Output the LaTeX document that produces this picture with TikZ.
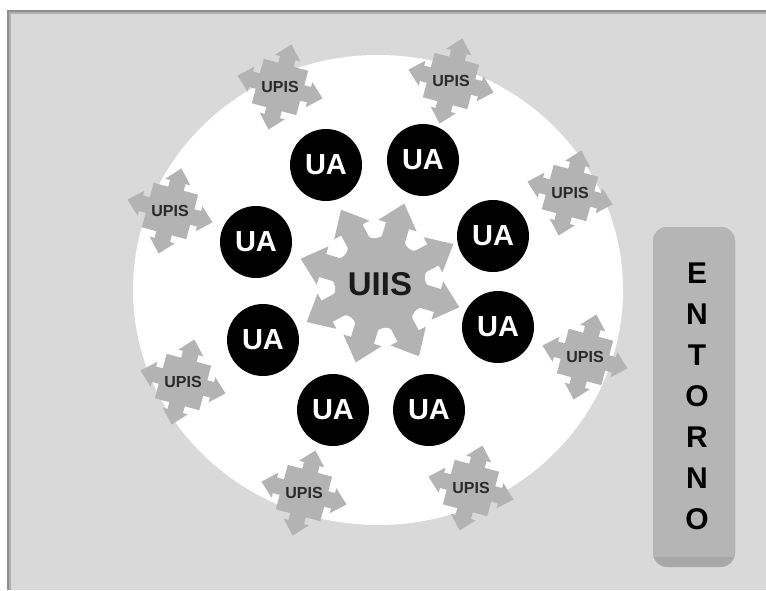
\documentclass[tikz,border=0pt]{standalone}
\usepackage{fontspec}
\setmainfont{Liberation Sans}
\definecolor{bggray}{HTML}{D9D9D9}
\definecolor{framedark}{HTML}{8E8E8E}
\definecolor{framemid}{HTML}{B0B0B0}
\definecolor{shapegray}{HTML}{B3B3B3}
\definecolor{boxgray}{HTML}{B5B5B5}
\definecolor{boxdark}{HTML}{A8A8A8}
\definecolor{uiistext}{HTML}{1A1A1A}
\definecolor{upistext}{HTML}{2A2A2A}
\tikzset{
  upisshape/.pic={
    \fill[shapegray] (-23,-23) rectangle (23,23);
    \foreach \a in {0,90,180,270}{
      \fill[shapegray,rotate=\a] (0,-8) -- (30,-8) -- (30,-13) -- (44,0) -- (30,13) -- (30,8) -- (0,8) -- cycle;
    }
  },
  upislabel/.style={font=\fontsize{16}{16}\selectfont\bfseries, text=upistext, inner sep=0pt},
  uacircle/.style={circle, fill=black, minimum size=72pt, inner sep=0pt,
    font=\fontsize{29}{29}\selectfont\bfseries, text=white},
  uiislabel/.style={font=\fontsize{33}{33}\selectfont\bfseries, text=uiistext, inner sep=0pt},
  entornolabel/.style={font=\fontsize{30}{41}\selectfont\bfseries, text=black, align=center, inner sep=0pt}
}
\begin{document}
\begin{tikzpicture}[x=1pt,y=-1pt]
\useasboundingbox (0,0) rectangle (766,590);
% background frame
\fill[white] (0,0) rectangle (766,590);
\fill[framedark] (7,10) rectangle (766,590);
\fill[framemid] (9,12) rectangle (766,590);
\fill[bggray] (10.5,13.5) rectangle (766,590);
% white circle
\fill[white] (378,290) ellipse [x radius=245, y radius=235];
% UPIS shapes
\foreach \n/\x/\y in {1/280/87, 2/451/81, 3/570/193, 4/585/357, 5/471/488, 6/304/493, 7/183/382, 8/170/211}{
  \pic[rotate=-15] (up\n) at (\x,\y) {upisshape};
  \node[upislabel] (upt\n) at (\x,\y) {UPIS};
}
% UIIS shape
\begin{scope}[shift={(380,283)}]
  \fill[shapegray] (0,0) circle (60);
  \foreach \k in {0,...,7}
    \fill[white, rotate=5.5+45*\k] (57,0) circle (12);
  \foreach \k in {0,...,7}
    \fill[shapegray, rotate=28+45*\k] (0,-12) -- (60,-12) -- (60,-20) -- (83,0) -- (60,20) -- (60,12) -- (0,12) -- cycle;
\end{scope}
\node[uiislabel] (uiis) at (380,284) {UIIS};
% UA circles
\node[uacircle] (ua1) at (326,165) {UA};
\node[uacircle] (ua2) at (423,160) {UA};
\node[uacircle] (ua3) at (493,236) {UA};
\node[uacircle] (ua4) at (498,327) {UA};
\node[uacircle] (ua5) at (429,410) {UA};
\node[uacircle] (ua6) at (333,410) {UA};
\node[uacircle] (ua7) at (263,340) {UA};
\node[uacircle] (ua8) at (256,242) {UA};
% ENTORNO box
\fill[boxdark, rounded corners=14pt] (653,227) rectangle (735,567);
\begin{scope}
  \clip (600,200) rectangle (760,556);
  \fill[boxgray, rounded corners=14pt] (653,227) rectangle (735,567);
\end{scope}
\node[entornolabel] (entorno) at (697,396) {E\\N\\T\\O\\R\\N\\O};
\end{tikzpicture}
\end{document}
